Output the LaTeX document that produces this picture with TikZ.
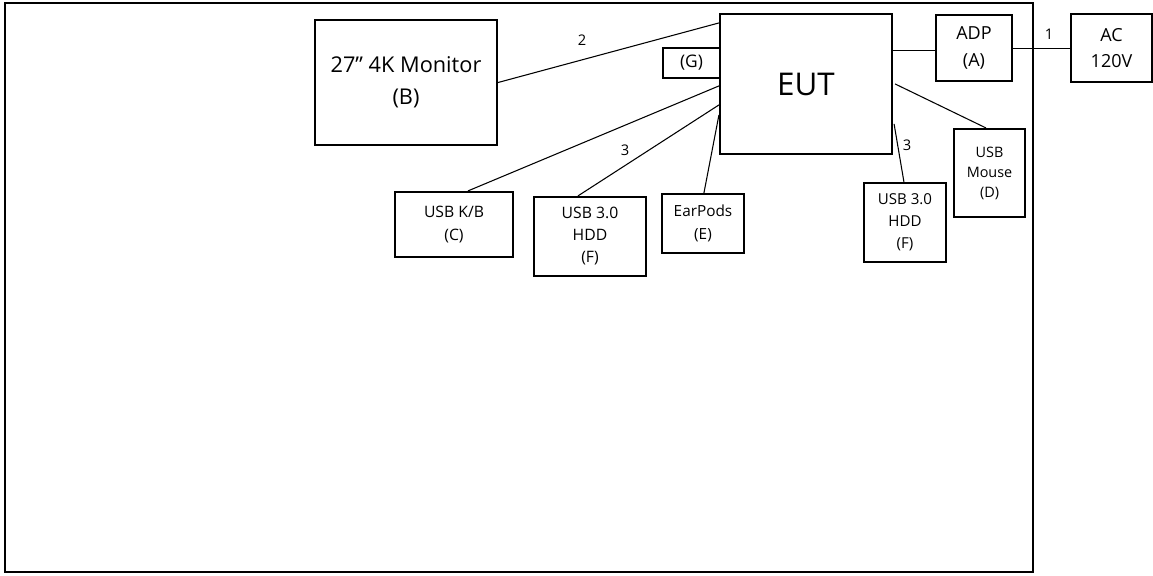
\documentclass[tikz,border=0pt]{standalone}
\usepackage{fontspec}
\setmainfont{Open Sans}
\usetikzlibrary{calc}
\begin{document}
\begin{tikzpicture}[x=0.75pt,y=-0.75pt,
  box/.style={draw=black,line width=1.6pt,inner sep=0pt,align=center,fill=white},
  wire/.style={draw=black,line width=0.8pt},
  lbl/.style={inner sep=0pt,font=\fontsize{11}{12}\selectfont}]
\useasboundingbox (0,0) rectangle (1153,575);
\draw[line width=2pt] (5,3) rectangle (1033,572);
% nodes
\node[box,minimum width=182*0.75pt,minimum height=125*0.75pt,font=\fontsize{16.3}{24}\selectfont] (mon) at (406,82.5) {27” 4K Monitor\\(B)};
\node[box,minimum width=172*0.75pt,minimum height=140*0.75pt,font=\fontsize{23.5}{26}\selectfont] (eut) at (806,84) {EUT};
\node[box,minimum width=57*0.75pt,minimum height=30*0.75pt,font=\fontsize{13}{14}\selectfont] (g) at (691.5,63) {(G)};
\node[box,minimum width=76*0.75pt,minimum height=66*0.75pt,font=\fontsize{13.5}{20}\selectfont] (adp) at (974,48) {ADP\\(A)};
\node[box,minimum width=81*0.75pt,minimum height=68*0.75pt,font=\fontsize{13.5}{20}\selectfont] (ac) at (1111.5,48) {AC\\120V};
\node[box,minimum width=71*0.75pt,minimum height=88*0.75pt,font=\fontsize{10.8}{15}\selectfont] (mouse) at (989.5,173) {USB\\Mouse\\(D)};
\node[box,minimum width=82*0.75pt,minimum height=79*0.75pt,font=\fontsize{11.3}{16.5}\selectfont] (hddr) at (905,222.5) {USB 3.0\\HDD\\(F)};
\node[box,minimum width=118*0.75pt,minimum height=65*0.75pt,font=\fontsize{11.8}{17}\selectfont] (kb) at (454,224.5) {USB K/B\\(C)};
\node[box,minimum width=112*0.75pt,minimum height=79*0.75pt,font=\fontsize{11.8}{16.5}\selectfont] (hddf) at (590,236.5) {USB 3.0\\HDD\\(F)};
\node[box,minimum width=82*0.75pt,minimum height=59*0.75pt,font=\fontsize{11.5}{17}\selectfont] (ear) at (703,223.5) {EarPods\\(E)};
% connection points
\coordinate (eutM) at ($(eut.north west)+(0,10)$);
\coordinate (eutK) at ($(eut.north west)+(0,73)$);
\coordinate (eutH) at ($(eut.north west)+(0,92)$);
\coordinate (eutE) at ($(eut.north west)+(0,102)$);
\coordinate (eutA) at ($(eut.north east)+(0,38)$);
\coordinate (eutD) at ($(eut.north east)+(2,71)$);
\coordinate (eutF) at ($(eut.north east)+(1,111)$);
\coordinate (adpW) at ($(adp.north west)+(0,37)$);
\coordinate (adpE) at ($(adp.north east)+(0,35)$);
% connectors
\draw[wire] (mon.east) -- (eutM);
\draw[wire] ($(kb.north west)+(74,0)$) -- (eutK);
\draw[wire] ($(hddf.north west)+(45,0)$) -- (eutH);
\draw[wire] ($(ear.north west)+(43,0)$) -- (eutE);
\draw[wire] (eutA) -- (adpW);
\draw[wire] (adpE) -- (ac.west |- adpE);
\draw[wire] (eutD) -- ($(mouse.north west)+(33,0)$);
\draw[wire] (eutF) -- ($(hddr.north west)+(41,0)$);
% labels
\node[lbl] (l2) at (582,40) {2};
\node[lbl] (l3a) at (625,150) {3};
\node[lbl] (l3b) at (907,145) {3};
\node[lbl] (l1) at (1049,34) {1};
\end{tikzpicture}
\end{document}
